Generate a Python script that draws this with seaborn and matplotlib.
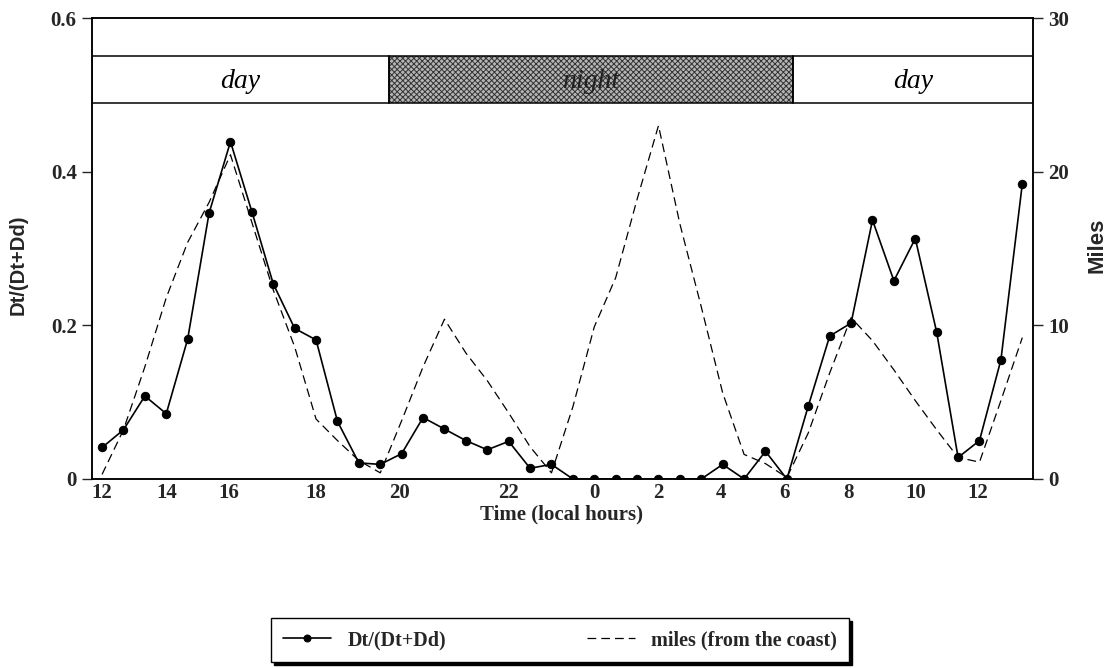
import numpy as np
import pandas as pd
import matplotlib
matplotlib.use("Agg")
import matplotlib.pyplot as plt
import seaborn as sns
from matplotlib.patches import Rectangle
from matplotlib.ticker import FixedLocator, FixedFormatter

# ---------------- data ----------------
ratio = [0.041, 0.064, 0.108, 0.085, 0.182, 0.346, 0.439, 0.348, 0.254, 0.196,
         0.181, 0.075, 0.021, 0.019, 0.033, 0.080, 0.065, 0.050, 0.038, 0.049,
         0.014, 0.019, 0.0, 0.0, 0.0, 0.0, 0.0, 0.0, 0.0, 0.019,
         0.0, 0.036, 0.0, 0.095, 0.186, 0.203, 0.337, 0.258, 0.313, 0.191,
         0.028, 0.050, 0.155, 0.384]
miles = [0.3, 3.2, 7.3, 11.8, 15.4, 18.0, 21.1, 16.7, 12.3, 8.6,
         3.9, 2.5, 1.2, 0.4, 3.8, 7.3, 10.4, 8.2, 6.4, 4.3,
         2.1, 0.4, 4.7, 9.9, 13.1, 18.2, 23.0, 16.6, 11.2, 5.6,
         1.6, 1.0, 0.1, 3.0, 6.9, 10.5, 9.0, 7.1, 5.1, 3.2,
         1.4, 1.1, 5.1, 9.2]
sample = list(range(len(ratio)))

hour_tick_pos = [0, 3.0, 5.9, 10.0, 13.9, 19.0, 23.0, 26.0, 28.9, 31.9, 34.9, 38.0, 40.9]
hour_tick_labels = ["12", "14", "16", "18", "20", "22", "0", "2", "4", "6", "8", "10", "12"]

left_ticks = [0, 0.2, 0.4, 0.6]
left_tick_labels = ["0", "0.2", "0.4", "0.6"]
right_ticks = [0, 10, 20, 30]
right_tick_labels = ["0", "10", "20", "30"]

periods = ["day", "night", "day"]
period_edges = [-0.47, 13.4, 32.3, 43.5]

df = pd.DataFrame({"sample": sample, "ratio": ratio, "miles": miles})

# ---------------- style ----------------
sns.set_theme(style="white")
plt.rcParams["font.family"] = ["Liberation Serif", "DejaVu Serif"]
plt.rcParams["hatch.linewidth"] = 0.7
SERIF = "Liberation Serif"
SANS = "Liberation Sans"

fig = plt.figure(figsize=(11.15, 6.68), dpi=100)
ax = fig.add_axes([92 / 1115, 1 - 479 / 668, (1033 - 92) / 1115, (479 - 18) / 668])
ax2 = ax.twinx()

sns.lineplot(data=df, x="sample", y="ratio", ax=ax, color="black", lw=1.2,
             marker="o", markersize=6, markeredgecolor="black",
             markerfacecolor="black", label="Dt/(Dt+Dd)", legend=False)
sns.lineplot(data=df, x="sample", y="miles", ax=ax2, color="black", lw=0.9,
             linestyle=(0, (7, 4)), label="miles (from the coast)", legend=False)

ax.set_xlim(period_edges[0], period_edges[-1])
ax.set_ylim(0, 0.6)
ax2.set_ylim(0, 30)

# day/night band
band_lo, band_hi = 0.49, 0.55
for i, name in enumerate(periods):
    x0, x1 = period_edges[i], period_edges[i + 1]
    if name == "night":
        ax.add_patch(Rectangle((x0, band_lo), x1 - x0, band_hi - band_lo,
                               facecolor="#b5b5b5", edgecolor="#333333",
                               hatch="xxxxxx", lw=0, zorder=1))
        col = "#222222"
    else:
        col = "black"
    ax.add_patch(Rectangle((x0, band_lo), x1 - x0, band_hi - band_lo,
                           facecolor="none", edgecolor="black", lw=1.1, zorder=2))
    ax.text((x0 + x1) / 2, (band_lo + band_hi) / 2 - 0.002, name, ha="center",
            va="center", fontsize=20, style="italic", family=SERIF, color=col,
            zorder=3)

# ticks
ax.xaxis.set_major_locator(FixedLocator(hour_tick_pos))
ax.xaxis.set_major_formatter(FixedFormatter(hour_tick_labels))
ax.yaxis.set_major_locator(FixedLocator(left_ticks))
ax.yaxis.set_major_formatter(FixedFormatter(left_tick_labels))
ax2.yaxis.set_major_locator(FixedLocator(right_ticks))
ax2.yaxis.set_major_formatter(FixedFormatter(right_tick_labels))

ax.tick_params(axis="x", length=0, pad=3, labelsize=15)
ax.tick_params(axis="y", direction="out", length=7, width=1, pad=4, labelsize=15,
               left=True)
ax2.tick_params(axis="y", direction="out", length=7, width=1, pad=4, labelsize=15,
                right=True)
for lab in ax.get_xticklabels() + ax.get_yticklabels() + ax2.get_yticklabels():
    lab.set_fontweight("bold")
    lab.set_family(SERIF)

ax.set_xlabel("")
ax.set_ylabel("")
ax2.set_ylabel("")
for a in (ax, ax2):
    for s in a.spines.values():
        s.set_color("black")
        s.set_linewidth(1.1)

fig.text(18 / 1115, 1 - 265 / 668, "Dt/(Dt+Dd)", rotation=90, ha="center",
         va="center", fontsize=14.5, fontweight="bold", family=SANS)
fig.text(1097 / 1115, 1 - 245 / 668, "Miles", rotation=90, ha="center",
         va="center", fontsize=16, fontweight="bold", family=SANS)
fig.text(562 / 1115, 1 - 514 / 668, "Time (local hours)", ha="center",
         va="center", fontsize=15, fontweight="bold", family=SERIF)

# legend
h1 = ax.get_lines()[0]
h2 = ax2.get_lines()[0]
leg = fig.legend([h1, h2], ["Dt/(Dt+Dd)", "miles (from the coast)"],
                 loc="center", bbox_to_anchor=(560 / 1115, 1 - 640 / 668),
                 ncol=2, frameon=True, fancybox=False,
                 shadow={"color": "black", "alpha": 1},
                 edgecolor="black", framealpha=1, borderpad=0.6,
                 handlelength=2.4, handletextpad=0.8, columnspacing=7.0,
                 numpoints=1, prop={"family": SERIF, "weight": "bold", "size": 14.5})
leg.get_frame().set_linewidth(1.0)
for lh in leg.legend_handles:
    lh.set_markersize(5)

fig.savefig("out.png", dpi=100)
